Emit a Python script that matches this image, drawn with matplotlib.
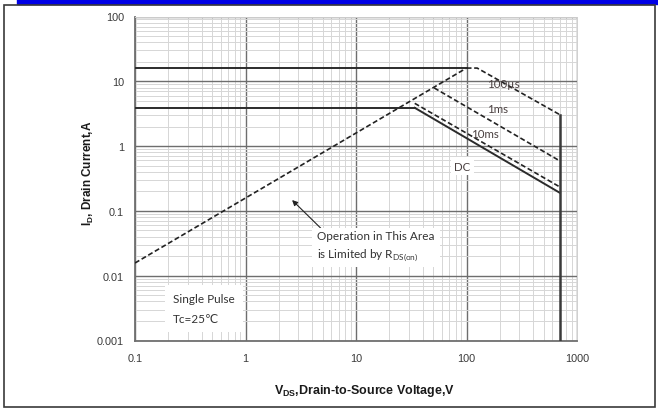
import matplotlib
matplotlib.use("Agg")
import matplotlib.pyplot as plt
import matplotlib.patches as patches
from matplotlib.ticker import LogLocator, FixedLocator, NullFormatter

plt.rcParams['font.family'] = ['Liberation Sans', 'DejaVu Sans']
plt.rcParams['mathtext.fontset'] = 'custom'
plt.rcParams['mathtext.rm'] = 'Lato'
plt.rcParams['mathtext.bf'] = 'Liberation Sans:bold'

# SOA curve data (V, A)
rds_v = [0.1, 100]
rds_i = [0.0157, 16]
idm_v = [0.1, 100]
idm_i = [16, 16]
us100_v = [100, 125, 700]
us100_i = [16, 16, 3.05]
ms1_v = [51, 700]
ms1_i = [7.9, 0.59]
ms10_v = [34, 700]
ms10_i = [4.57, 0.234]
id_v = [0.1, 34]
id_i = [3.9, 3.9]
dc_v = [34, 700]
dc_i = [3.9, 0.19]
bv_v = [700, 700]
bv_i = [3.05, 0.001]

x_ticks = [0.1, 1, 10, 100, 1000]
x_labels = ['0.1', '1', '10', '100', '1000']
y_ticks = [0.001, 0.01, 0.1, 1, 10, 100]
y_labels = ['0.001', '0.01', '0.1', '1', '10', '100']

fig = plt.figure(figsize=(6.58, 4.14), dpi=100)

# outer frame + blue strip on top
fig.patches.append(patches.Rectangle((17 / 658, 409 / 414), 641 / 658, 5 / 414,
                                     transform=fig.transFigure, color='#0000e6', zorder=0))
fig.patches.append(patches.Rectangle((4 / 658, 6 / 414), 651 / 658, 402 / 414,
                                     transform=fig.transFigure, fill=False,
                                     edgecolor='#3a3a3a', lw=1.2, zorder=0))

ax = fig.add_axes([135 / 658, 72.5 / 414, 442 / 658, 324 / 414])
ax.set_xscale('log')
ax.set_yscale('log')
ax.set_xlim(0.1, 1000)
ax.set_ylim(0.001, 100)

ax.xaxis.set_major_locator(FixedLocator(x_ticks))
ax.set_xticklabels(x_labels)
ax.yaxis.set_major_locator(FixedLocator(y_ticks))
ax.set_yticklabels(y_labels)
ax.xaxis.set_minor_locator(LogLocator(base=10, subs=range(2, 10)))
ax.yaxis.set_minor_locator(LogLocator(base=10, subs=range(2, 10)))
ax.xaxis.set_minor_formatter(NullFormatter())
ax.yaxis.set_minor_formatter(NullFormatter())
ax.tick_params(which='both', length=0)
ax.tick_params(axis='x', pad=9, labelsize=7.8, labelcolor='#3a3a3a')
ax.tick_params(axis='y', pad=8, labelsize=7.8, labelcolor='#3a3a3a')

ax.grid(which='major', color='#6e6e6e', lw=1.0)
ax.grid(which='minor', color='#d6d6d6', lw=0.7)
ax.set_axisbelow(True)
for s in ['top', 'right']:
    ax.spines[s].set_color('#cfcfcf')
    ax.spines[s].set_linewidth(0.7)
for s in ['left', 'bottom']:
    ax.spines[s].set_color('#707070')
    ax.spines[s].set_linewidth(1.3)

solid = dict(color='#2b2b2b', lw=1.4, zorder=3)
dash = dict(color='#222222', lw=1.2, ls=(0, (3, 1.6)), zorder=3)

ax.plot(rds_v, rds_i, **dash)
ax.plot(idm_v, idm_i, **solid)
ax.plot(us100_v, us100_i, **dash)
ax.plot(ms1_v, ms1_i, **dash)
ax.plot(ms10_v, ms10_i, **dash)
ax.plot(id_v, id_i, **solid)
ax.plot(dc_v, dc_i, **solid)
ax.plot(bv_v, bv_i, color='#3a3a3a', lw=1.8, zorder=3)

lab = dict(fontsize=8.3, family=['Lato', 'DejaVu Sans'], color='#4a4040',
           ha='center', va='center', zorder=4)
ax.text(215, 9.09, '100µs', **lab)
ax.text(190, 3.87, '1ms', **lab)
ax.text(148, 1.54, '10ms', **lab)
ax.text(91.6, 0.493, 'DC', bbox=dict(facecolor='white', edgecolor='none', pad=2.5), **lab)

ax.annotate('Operation in This Area\nis Limited by R$_{\\mathrm{DS(on)}}$',
            xy=(2.64, 0.147), xytext=(4.45, 0.05),
            fontsize=8.5, family=['Lato', 'DejaVu Sans'], color='#333333',
            ha='left', va='top', linespacing=1.4,
            bbox=dict(facecolor='white', edgecolor='none', pad=4),
            arrowprops=dict(arrowstyle='-|>', color='#222222', lw=0.8,
                            mutation_scale=8, relpos=(0.05, 1.0), shrinkA=0, shrinkB=0),
            zorder=4)

ax.text(0.221, 0.00312, 'Single Pulse\nTc=25℃', fontsize=8.5,
        family=['Lato', 'DejaVu Sans'], color='#333333', ha='left', va='center',
        linespacing=2.0,
        bbox=dict(facecolor='white', edgecolor='none', pad=6), zorder=4)

ax.set_xlabel(r'$\mathbf{V_{DS}}$,Drain-to-Source Voltage,V', fontsize=9,
              fontweight='bold', color='#1a1a1a')
ax.set_ylabel(r'$\mathbf{I_D}$, Drain Current,A', fontsize=8.5,
              fontweight='bold', color='#1a1a1a')
ax.xaxis.set_label_coords(0.52, -0.128)
ax.yaxis.set_label_coords(-0.088, 0.52)

fig.savefig('out.png', dpi=100)
